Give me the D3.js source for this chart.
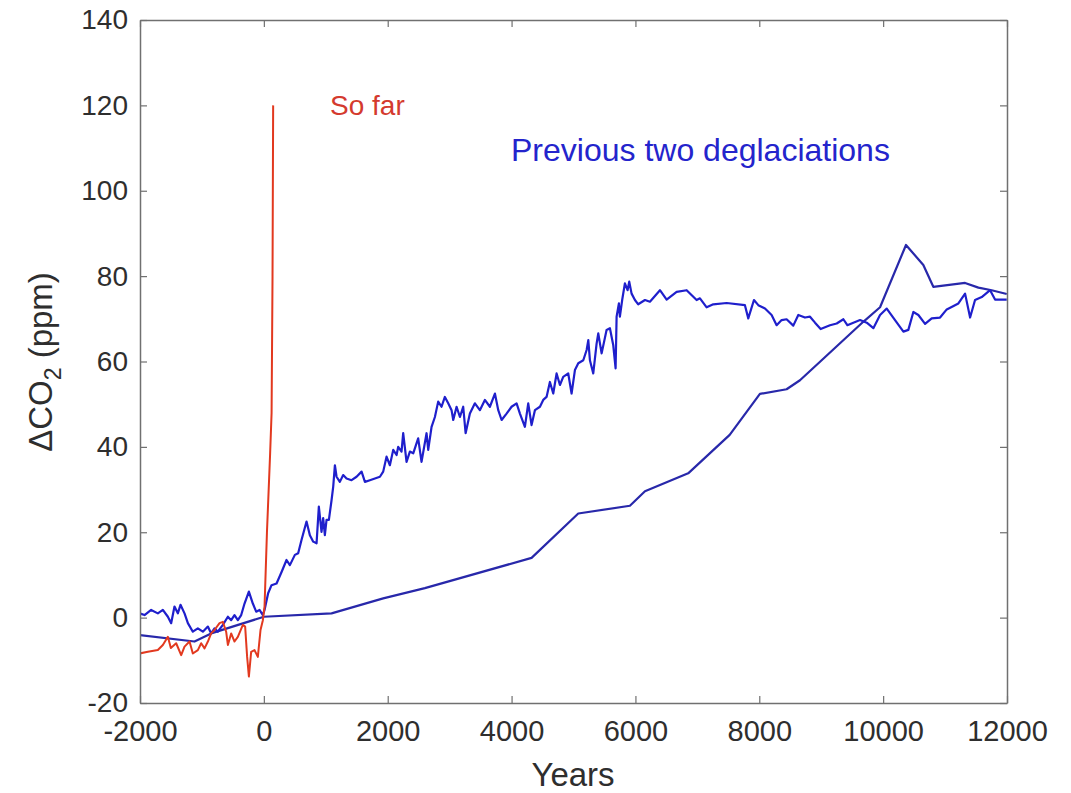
<!DOCTYPE html>
<html>
<head>
<meta charset="utf-8">
<script src="https://cdn.jsdelivr.net/npm/d3@7"></script>
<style>
  html, body { margin: 0; padding: 0; background: #fff; }
  svg { display: block; }
  text { font-family: "Liberation Sans", Arial, Helvetica, sans-serif; }
</style>
</head>
<body>
<svg id="chart" width="1071" height="793"></svg>
<script>
// ---- Data (years, ΔCO2 ppm) ----
const soFarYears = [-2008,-1873,-1712,-1631,-1550,-1502,-1416,-1335,-1281,-1200,-1147,-1066,-1012,-958,-904,-851,-797,-716,-662,-609,-581,-528,-474,-420,-339,-302,-270,-242,-205,-151,-97,-54,-16,11,50,100,125,140,150];
const soFarValues = [-8.4,-8,-7.6,-6.4,-4.5,-7.1,-6,-8.8,-6.8,-5.6,-8.4,-7.6,-6,-7.2,-5.6,-3.7,-2.9,-1.3,-1,-3.3,-6.4,-3.7,-5.6,-4.5,-1.7,-2.1,-9.2,-13.8,-8,-7.6,-9.2,-2.9,-0.6,2.6,20,38,48,80,120];

const deglacAYears = [-2008,-1927,-1820,-1712,-1631,-1550,-1497,-1443,-1389,-1346,-1281,-1227,-1147,-1066,-985,-904,-851,-797,-743,-662,-581,-528,-474,-420,-366,-312,-242,-178,-124,-70,-16,11,69,124,205,286,366,420,501,554,608,689,743,797,851,888,931,958,985,1012,1050,1093,1120,1147,1174,1227,1281,1335,1416,1497,1578,1632,1712,1874,1927,1981,2035,2089,2143,2169,2223,2250,2304,2358,2412,2465,2492,2546,2627,2654,2708,2762,2815,2869,2923,2977,3031,3058,3112,3166,3219,3258,3327,3408,3488,3569,3650,3731,3785,3839,3919,4000,4081,4135,4215,4269,4323,4377,4458,4511,4565,4619,4673,4727,4781,4834,4915,4969,5023,5077,5158,5212,5239,5265,5319,5373,5400,5454,5534,5588,5642,5680,5696,5733,5749,5786,5830,5873,5900,5938,5992,6045,6154,6234,6396,6504,6665,6827,6988,7042,7150,7257,7473,7768,7822,7914,7984,8092,8199,8280,8361,8441,8549,8630,8738,8819,8900,8991,9142,9250,9358,9422,9519,9627,9735,9842,9950,10058,10192,10327,10407,10488,10569,10677,10784,10919,11027,11215,11323,11404,11484,11592,11727,11807,11996];
const deglacAValues = [1,0.6,1.8,1,1.8,0.2,-1.3,2.6,1,3,1,-1.3,-3.3,-2.5,-3.3,-2.1,-3.7,-2.5,-3.3,-1.7,0.2,-0.6,0.6,-0.6,0.6,3.3,6.1,3.3,1.4,1.8,0.6,1.8,5.7,7.6,8,10.7,13.5,12.3,14.7,15.1,18.2,22.5,19.3,17.8,17.4,26,20.1,23.3,19.3,22.9,22.9,27.5,30.7,35.7,33,31.8,33.4,32.6,32.2,33,34.2,31.8,32.2,33,34.2,37.7,35.7,39.3,38.1,40,38.9,43.2,36.5,38.9,38.5,40.8,42,36.5,43.2,39.3,44.7,47,50.6,49.4,51.7,50.2,48.6,46.3,49.4,47,49.4,43.2,47.8,50.2,48.6,51,49.4,52.5,48.6,46.3,47.8,49.4,50.2,47.8,44.7,50.2,45.1,48.6,49.4,51,51.7,55.2,52.5,57.2,54.5,56.4,57.2,52.5,58,59.6,60.3,62.7,65,60.3,57.2,64.2,66.6,61.9,67.4,67.8,63.8,58.4,70.5,73.6,70.5,74.4,78.3,76.7,78.7,75.9,74.4,73.4,74.4,74,76.7,74.5,76.3,76.7,74.4,74.8,72.7,73.4,73.7,73.2,70.1,74.4,73.2,72.4,70.9,68.5,69.7,69.9,68.4,70.9,70.3,70.5,69.1,67.6,68.5,68.9,69.9,68.5,69.1,69.7,69.1,67.8,70.9,72.4,69.7,67,67.4,71.6,70.9,68.8,70.1,70.3,72.2,73.6,75.9,70.3,74.4,75.1,76.7,74.5,74.5];

const deglacBYears = [-2008,-1120,-851,0,1093,1927,2600,4323,5077,5911,6154,6852,7522,8010,8441,8657,9007,9679,9950,10369,10649,10810,11323,11538,11753,11996];
const deglacBValues = [-4.1,-5.6,-3.7,0.2,1.0,4.5,6.9,14,24.4,26.2,29.6,33.8,42.8,52.4,53.5,55.6,60.3,69.3,72.7,87.3,82.6,77.5,78.4,77.3,76.7,75.8];

const xTicks = [-2000,0,2000,4000,6000,8000,10000,12000];
const yTicks = [-20,0,20,40,60,80,100,120,140];
const xLabel = "Years";
const labelSoFar = "So far";
const labelPrev = "Previous two deglaciations";

(function draw() {
  const svg = d3.select("#chart");
  const pL = 140, pR = 1007, pT = 20, pB = 703;
  const x = d3.scaleLinear().domain([-2000, 12000]).range([pL, pR]);
  const y = d3.scaleLinear().domain([-20, 140]).range([pB, pT]);

  const axisColor = "#707070";
  const textColor = "#2e2e2e";
  const blue = "#1f1fcc";
  const red = "#e2391f";
  const fmt = d => String(d);

  const line = d3.line().x(d => x(d[0])).y(d => y(d[1]));
  svg.append("clipPath").attr("id", "clip").append("rect")
    .attr("x", pL).attr("y", pT).attr("width", pR - pL).attr("height", pB - pT);

  const g = svg.append("g").attr("clip-path", "url(#clip)");
  g.append("path").datum(d3.zip(deglacBYears, deglacBValues))
    .attr("d", line).attr("fill", "none").attr("stroke", "#2828aa").attr("stroke-width", 2.2).attr("stroke-linejoin", "round");
  g.append("path").datum(d3.zip(deglacAYears, deglacAValues))
    .attr("d", line).attr("fill", "none").attr("stroke", blue).attr("stroke-width", 2.2).attr("stroke-linejoin", "round");
  g.append("path").datum(d3.zip(soFarYears, soFarValues))
    .attr("d", line).attr("fill", "none").attr("stroke", red).attr("stroke-width", 2).attr("stroke-linejoin", "round");

  function styleAxis(sel, showLabels, size) {
    sel.select(".domain").attr("stroke", axisColor).attr("stroke-width", 1.5);
    sel.selectAll(".tick line").attr("stroke", axisColor).attr("stroke-width", 1.2);
    sel.selectAll(".tick text").attr("fill", textColor).style("font-size", size + "px")
      .style("font-family", "'Liberation Sans', Arial, sans-serif");
    if (!showLabels) sel.selectAll(".tick text").remove();
  }
  const xb = svg.append("g").attr("transform", `translate(0,${pB})`)
    .call(d3.axisBottom(x).tickValues(xTicks).tickSizeInner(-7).tickSizeOuter(0).tickPadding(17).tickFormat(fmt));
  styleAxis(xb, true, 29);
  const xt = svg.append("g").attr("transform", `translate(0,${pT})`)
    .call(d3.axisTop(x).tickValues(xTicks).tickSizeInner(-7).tickSizeOuter(0));
  styleAxis(xt, false, 29);
  const yl = svg.append("g").attr("transform", `translate(${pL},0)`)
    .call(d3.axisLeft(y).tickValues(yTicks).tickSizeInner(-7).tickSizeOuter(0).tickPadding(12).tickFormat(fmt));
  styleAxis(yl, true, 28);
  const yr = svg.append("g").attr("transform", `translate(${pR},0)`)
    .call(d3.axisRight(y).tickValues(yTicks).tickSizeInner(-7).tickSizeOuter(0));
  styleAxis(yr, false, 28);

  svg.append("text").attr("x", 573).attr("y", 786)
    .attr("text-anchor", "middle").attr("fill", textColor).style("font-size", "33px").text(xLabel);

  const yLab = svg.append("text")
    .attr("transform", `translate(52,362) rotate(-90)`)
    .attr("text-anchor", "middle").attr("fill", textColor).style("font-size", "33px");
  yLab.append("tspan").text("ΔCO");
  yLab.append("tspan").attr("dy", 9).style("font-size", "23px").text("2");
  yLab.append("tspan").attr("dy", -9).text(" (ppm)");

  svg.append("text").attr("x", 330).attr("y", 115).attr("fill", "#d43a2e")
    .style("font-size", "28px").text(labelSoFar);
  svg.append("text").attr("x", 511).attr("y", 161).attr("fill", "#2424cc")
    .style("font-size", "32px").text(labelPrev);
})();
</script>
</body>
</html>
